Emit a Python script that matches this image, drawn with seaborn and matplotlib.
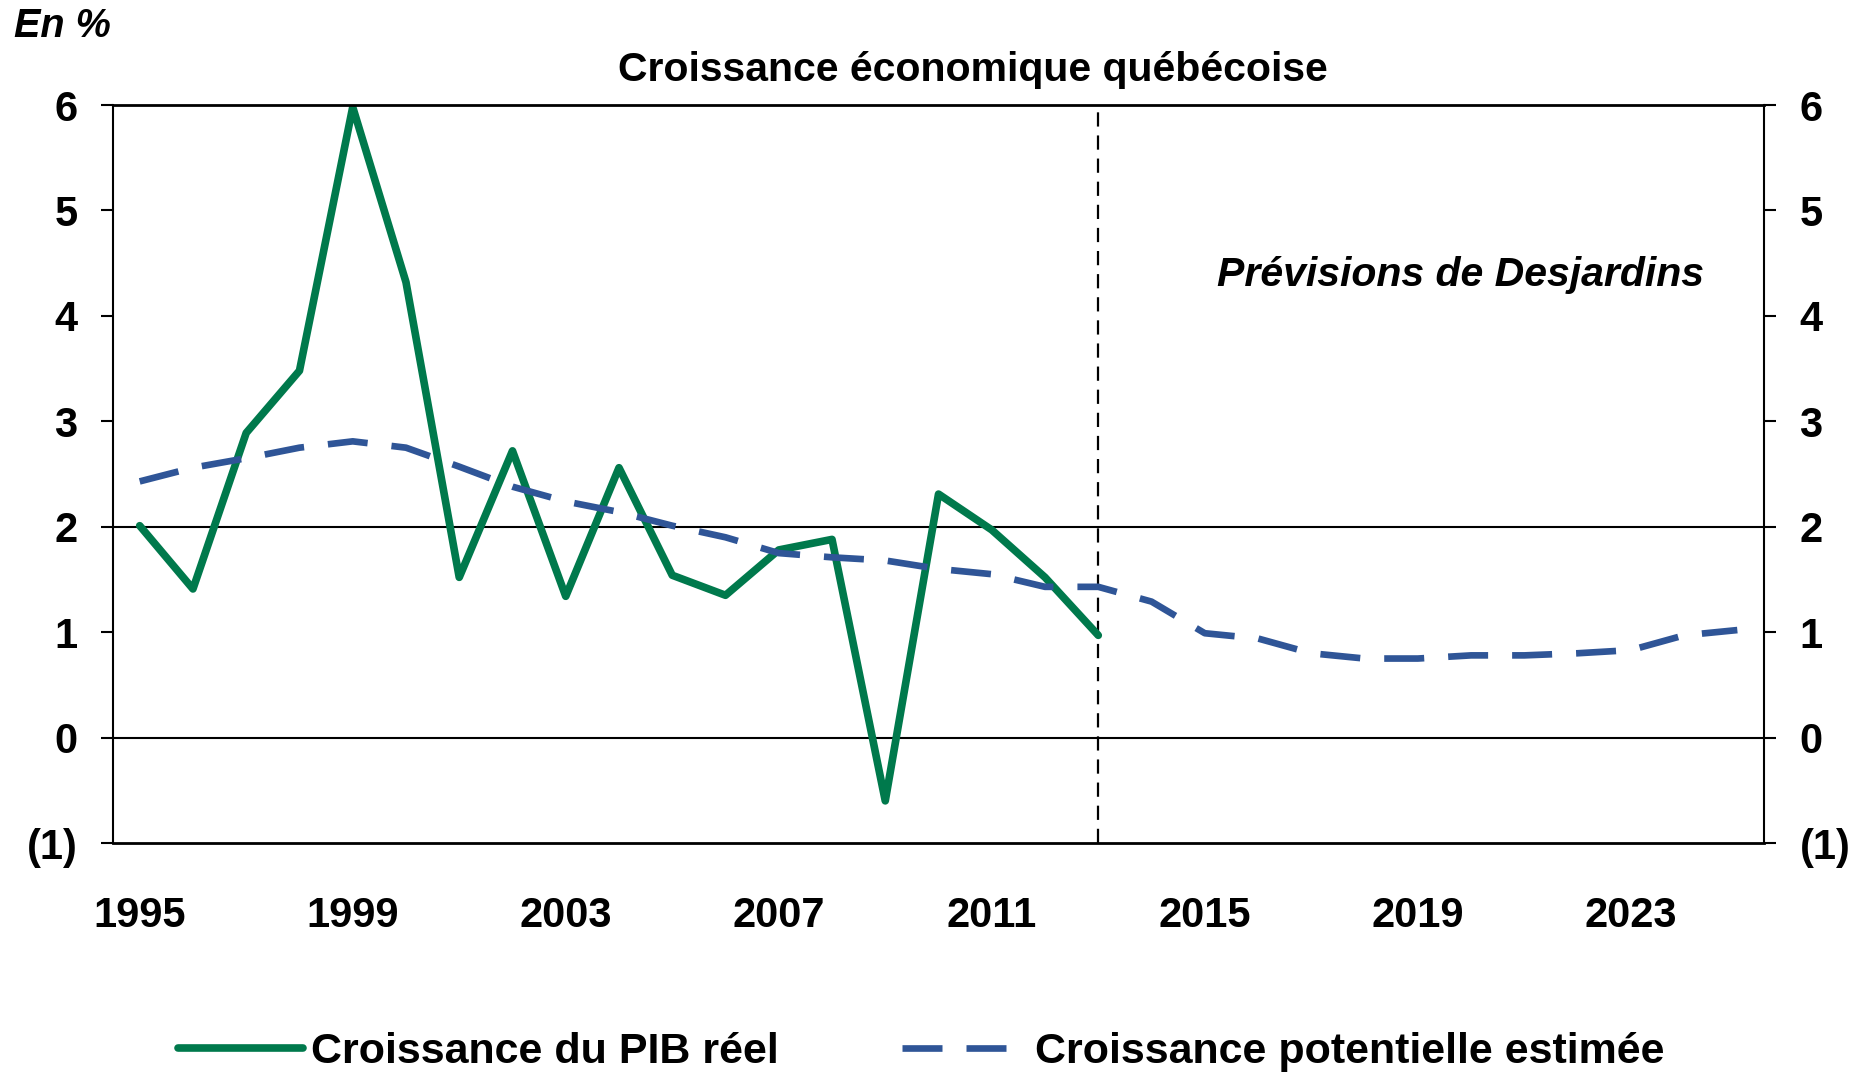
import numpy as np
import pandas as pd
import seaborn as sns
import matplotlib.pyplot as plt

# data (en %)
years = list(range(1995, 2026))
pib_reel = [2.01, 1.41, 2.89, 3.48, 5.98, 4.32, 1.52, 2.72, 1.34, 2.56,
            1.54, 1.35, 1.78, 1.88, -0.60, 2.31, 1.97, 1.52, 0.97]
potentiel = [2.43, 2.56, 2.65, 2.75, 2.81, 2.75, 2.57, 2.38, 2.24, 2.14,
             2.01, 1.90, 1.75, 1.71, 1.68, 1.60, 1.55, 1.43, 1.43, 1.29,
             0.99, 0.94, 0.80, 0.75, 0.75, 0.78, 0.78, 0.80, 0.83, 0.97, 1.02]
y_ticks = [-1, 0, 1, 2, 3, 4, 5, 6]
y_labels = ['(1)', '0', '1', '2', '3', '4', '5', '6']
x_ticks = [1995, 1999, 2003, 2007, 2011, 2015, 2019, 2023]
derniere_annee = 2013

labels = ['Croissance du PIB réel', 'Croissance potentielle estimée']

df_pib = pd.DataFrame({'annee': years[:len(pib_reel)], 'valeur': pib_reel})
df_pot = pd.DataFrame({'annee': years, 'valeur': potentiel})

sns.set_style('white')
plt.rcParams['font.family'] = ['Liberation Sans', 'DejaVu Sans']
plt.rcParams['font.weight'] = 'bold'
plt.rcParams['text.color'] = 'black'
plt.rcParams['xtick.color'] = 'black'
plt.rcParams['ytick.color'] = 'black'
plt.rcParams['axes.labelcolor'] = 'black'

fig = plt.figure(figsize=(18.69, 10.76), dpi=100)
ax = fig.add_axes([0.0605, 0.2165, 0.8833, 0.6859])

sns.lineplot(data=df_pib, x='annee', y='valeur', ax=ax, color='#00794C',
             linewidth=5.5, label=labels[0], solid_capstyle='round',
             solid_joinstyle='round', legend=False)
sns.lineplot(data=df_pot, x='annee', y='valeur', ax=ax, color='#2F5597',
             linewidth=4.8, linestyle=(0, (6, 3.6)), dash_capstyle='butt',
             label=labels[1], legend=False)

ax.axhline(0, color='black', lw=1.5, zorder=1)
ax.axhline(2, color='black', lw=1.5, zorder=1)
ax.axvline(derniere_annee, color='black', lw=1.6, linestyle=(0, (6.4, 4)), zorder=1)

ax.set_xlim(1994.5, 2025.5)
ax.set_ylim(-1, 6)
ax.set_xticks(x_ticks)
ax.set_xticklabels([str(x) for x in x_ticks])
ax.set_yticks(y_ticks)
ax.set_yticklabels(y_labels)
ax.set_xlabel('')
ax.set_ylabel('')

for s in ['left', 'right']:
    ax.spines[s].set_linewidth(1.5)
    ax.spines[s].set_color('black')
for s in ['top', 'bottom']:
    ax.spines[s].set_linewidth(2)
    ax.spines[s].set_color('black')

ax.tick_params(axis='x', length=0, pad=38, labelsize=30, labelcolor='black')
ax.tick_params(axis='y', left=True, right=True, labelleft=True, labelright=True,
               direction='out', length=8.6, width=1.5, pad=17, labelsize=30,
               color='black', labelcolor='black')
for t in ax.get_xticklabels() + ax.get_yticklabels():
    t.set_fontweight('bold')
for t in ax.yaxis.get_ticklabels(which='major'):
    t.set_fontweight('bold')

fig.text(0.5206, 0.9345, 'Croissance économique québécoise', ha='center', va='center',
         fontsize=29.5, fontweight='bold', color='black')
fig.text(0.0075, 0.976, 'En %', ha='left', va='center', fontsize=28.5,
         fontweight='bold', fontstyle='italic', color='black')
ax.text(2019.8, 4.39, 'Prévisions de Desjardins', ha='center', va='center',
        fontsize=29.5, fontweight='bold', fontstyle='italic', color='black')

handles, lbls = ax.get_legend_handles_labels()
leg = fig.legend(handles, lbls, loc='center left', bbox_to_anchor=(0.0952, 0.0226), ncol=2,
                 frameon=False, fontsize=31, handlelength=2.9, handletextpad=0.2,
                 columnspacing=2.85, borderpad=0, borderaxespad=0)
for t in leg.get_texts():
    t.set_color('black')

fig.savefig('out.png', dpi=100)
